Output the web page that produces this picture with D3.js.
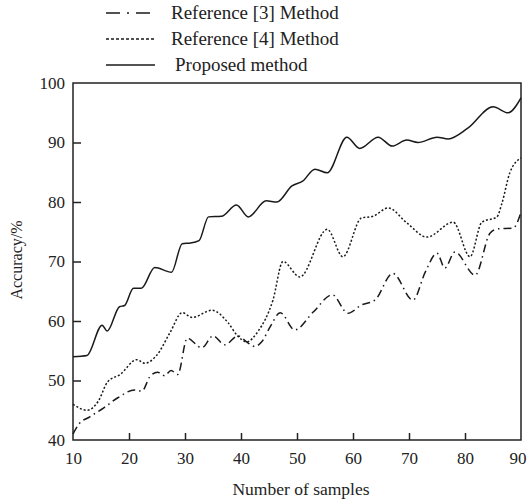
<!DOCTYPE html>
<html>
<head>
<meta charset="utf-8">
<script src="https://d3js.org/d3.v7.min.js"></script>
<style>
  body { margin: 0; background: #fff; }
  text { font-family: "Liberation Serif", "Times New Roman", serif; fill: #222; }
</style>
</head>
<body>
<svg id="chart" width="527" height="503"></svg>
<script>
// Werte
const xTicks = [10, 20, 30, 40, 50, 60, 70, 80, 90];
const yTicks = [40, 50, 60, 70, 80, 90, 100];

const ref3X = [10, 11, 13, 15.5, 18, 21, 22.3, 23.7, 25.1, 26.4, 27.5, 28.7, 30.4, 33, 35, 37.1, 39.5, 41, 42.5, 43.7, 45.2, 47, 49.6, 52.9, 56.3, 59.1, 61.5, 63.9, 67.1, 70.7, 72.9, 75, 76.4, 78.2, 81.8, 84.5, 85.9, 88.6, 90];
const ref3Y = [41, 42.6, 43.9, 45.4, 47.1, 48.4, 48.2, 50.6, 51.4, 50.8, 51.7, 51, 57.1, 55.5, 57.5, 56, 57.5, 56.5, 55.7, 56.5, 59, 61.4, 58.5, 61.5, 64.4, 61.3, 62.7, 63.5, 68, 63.5, 68.2, 71.4, 68.9, 71.6, 67.7, 74.8, 75.5, 75.6, 78.3];

const ref4X = [10, 12.5, 14.5, 16.2, 18.4, 21.4, 22.8, 25, 27.3, 29.5, 31.3, 34.8, 37.7, 39.3, 41, 43, 45.7, 47.5, 50.5, 55.4, 58.2, 61.5, 63.6, 66.3, 69.6, 73.2, 77.9, 80.9, 83, 85.7, 86.6, 88, 90];
const ref4Y = [46, 45, 46.5, 49.8, 51, 53.5, 52.9, 54.3, 58, 61.4, 60.6, 61.8, 59.7, 57.6, 56.5, 58.2, 63.5, 70, 67.4, 75.4, 70.8, 77.3, 77.6, 79, 76.5, 74.1, 76.6, 70.8, 76.6, 77.5, 79.8, 84.9, 87.4];

const propX = [10, 12.5, 15.2, 16.1, 18.3, 19.2, 20.8, 22.2, 24.6, 27.6, 29.5, 31, 32.5, 34.2, 36.5, 39.2, 41.3, 44.5, 46.4, 49.1, 51, 53.2, 55.4, 58.9, 61.2, 64.5, 67, 69.6, 71.6, 75, 77, 80.5, 85, 87.7, 90];
const propY = [54, 54.2, 59.3, 58.3, 62.4, 62.6, 65.5, 65.5, 69, 68.2, 73, 73.1, 73.5, 77.5, 77.6, 79.5, 77.5, 80.2, 80, 82.7, 83.5, 85.5, 84.9, 90.9, 89, 90.9, 89.4, 90.4, 90, 90.9, 90.6, 92.4, 96, 95, 97.5];

const seriesNames = ["Reference [3] Method", "Reference [4] Method", "Proposed method"];

const series = [
  { name: seriesNames[0], xs: ref3X, ys: ref3Y, dash: "8,4,1.5,4" },
  { name: seriesNames[1], xs: ref4X, ys: ref4Y, dash: "2,2" },
  { name: seriesNames[2], xs: propX, ys: propY, dash: null }
];

const svg = d3.select('#chart');
const mLeft = 73, mRight = 521, mTop = 83, mBottom = 440;

const x = d3.scaleLinear().domain([10, 90]).range([mLeft, mRight]);
const y = d3.scaleLinear().domain([40, 100]).range([mBottom, mTop]);

// Rahmen
svg.append('rect')
  .attr('x', mLeft).attr('y', mTop)
  .attr('width', mRight - mLeft).attr('height', mBottom - mTop)
  .attr('fill', 'none').attr('stroke', '#222').attr('stroke-width', 1.5);

// Achsen mit Ticks nach innen
const xAxis = svg.append('g')
  .attr('transform', `translate(0,${mBottom})`)
  .call(d3.axisBottom(x).tickValues(xTicks).tickSizeInner(-7).tickSizeOuter(0).tickPadding(12));
const yAxis = svg.append('g')
  .attr('transform', `translate(${mLeft},0)`)
  .call(d3.axisLeft(y).tickValues(yTicks).tickSizeInner(-8).tickSizeOuter(0).tickPadding(8));

[xAxis, yAxis].forEach(a => {
  a.select('.domain').remove();
  a.selectAll('line').attr('stroke', '#222').attr('stroke-width', 1.5);
  a.selectAll('text')
    .style('font-family', '"Liberation Serif", serif')
    .style('font-size', '17px').attr('fill', '#222');
});
// Endticks (10, 90, 40, 100) liegen auf dem Rahmen
xAxis.selectAll('.tick').filter(d => d === 10 || d === 90).select('line').remove();
yAxis.selectAll('.tick').filter(d => d === 40 || d === 100).select('line').remove();
// letzte Beschriftung nicht abschneiden
xAxis.selectAll('.tick').filter(d => d === 90).select('text')
  .attr('text-anchor', 'end').attr('x', 5);

// Achsentitel
svg.append('text')
  .attr('x', 301).attr('y', 495)
  .attr('text-anchor', 'middle')
  .style('font-size', '17.5px')
  .text('Number of samples');
svg.append('text')
  .attr('transform', 'translate(22,260) rotate(-90)')
  .attr('text-anchor', 'middle')
  .style('font-size', '16px')
  .text('Accuracy/%');

// Linien
const line = d3.line()
  .x(d => x(d[0]))
  .y(d => y(d[1]))
  .curve(d3.curveMonotoneX);

series.forEach(s => {
  const pts = s.xs.map((v, i) => [v, s.ys[i]]);
  svg.append('path')
    .datum(pts)
    .attr('d', line)
    .attr('fill', 'none')
    .attr('stroke', '#1a1a1a')
    .attr('stroke-width', 1.5)
    .attr('stroke-dasharray', s.dash);
});

// Legende
const legend = svg.append('g');
const legY = [13, 39, 65];
series.forEach((s, i) => {
  legend.append('line')
    .attr('x1', 106).attr('x2', 155)
    .attr('y1', legY[i]).attr('y2', legY[i])
    .attr('stroke', '#1a1a1a').attr('stroke-width', 1.6)
    .attr('stroke-dasharray', i === 0 ? '14,7,2,7' : (i === 1 ? '3,2' : null));
  legend.append('text')
    .attr('x', i === 2 ? 175 : 171)
    .attr('y', legY[i] + 6)
    .style('font-size', '19px')
    .text(s.name);
});
</script>
</body>
</html>
